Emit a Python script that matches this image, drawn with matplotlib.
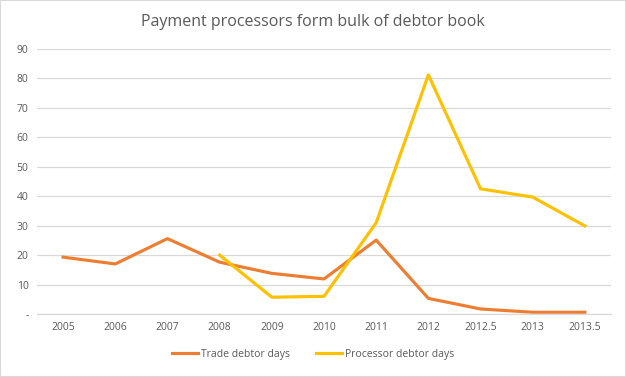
import numpy as np
import matplotlib.pyplot as plt
from matplotlib.patches import Rectangle

periods = ['2005', '2006', '2007', '2008', '2009', '2010', '2011', '2012', '2012.5', '2013', '2013.5']
trade_days = [19.3, 17.0, 25.6, 17.6, 13.8, 11.9, 25.1, 5.3, 1.7, 0.6, 0.6]
processor_days = [np.nan, np.nan, np.nan, 20.0, 5.7, 6.0, 31.0, 81.2, 42.5, 39.7, 29.9]
yticks = [0, 10, 20, 30, 40, 50, 60, 70, 80, 90]

plt.rcParams['font.family'] = ['Open Sans', 'DejaVu Sans']
grey = '#595959'

fig = plt.figure(figsize=(6.26, 3.77), dpi=100)
ax = fig.add_axes([37/626, 1 - 314/377, 574/626, 265/377])

x = np.arange(len(periods))
ax.plot(x, trade_days, color='#ED7D31', lw=2.25, label='Trade debtor days', solid_joinstyle='round')
ax.plot(x, processor_days, color='#FFC000', lw=2.25, label='Processor debtor days', solid_joinstyle='round')

ax.set_xlim(-0.5, len(periods) - 0.5)
ax.set_ylim(0, 90)
ax.set_xticks(x)
ax.set_xticklabels(periods)
ax.set_yticks(yticks)
ax.set_yticklabels(['-' if t == 0 else str(t) for t in yticks])
ax.tick_params(length=0, labelsize=7.5, colors=grey, pad=6)
ax.grid(axis='y', color='#D9D9D9', lw=0.9)
ax.set_axisbelow(True)
for s in ['left', 'right', 'top']:
    ax.spines[s].set_visible(False)
ax.spines['bottom'].set_color('#D9D9D9')
ax.spines['bottom'].set_linewidth(0.9)

fig.text(0.5, 1 - 22/377, 'Payment processors form bulk of debtor book',
         ha='center', va='center', fontsize=11.5, color=grey)
fig.legend(loc='center', bbox_to_anchor=(0.5, 1 - 354/377), ncol=2, frameon=False,
           fontsize=7.5, labelcolor=grey, handlelength=2.5, columnspacing=2.5, handletextpad=0.3)

fig.patches.append(Rectangle((0, 0), 1, 1, transform=fig.transFigure, fill=False,
                             edgecolor='#D9D9D9', lw=1.5))
fig.savefig('out.png', dpi=100)
